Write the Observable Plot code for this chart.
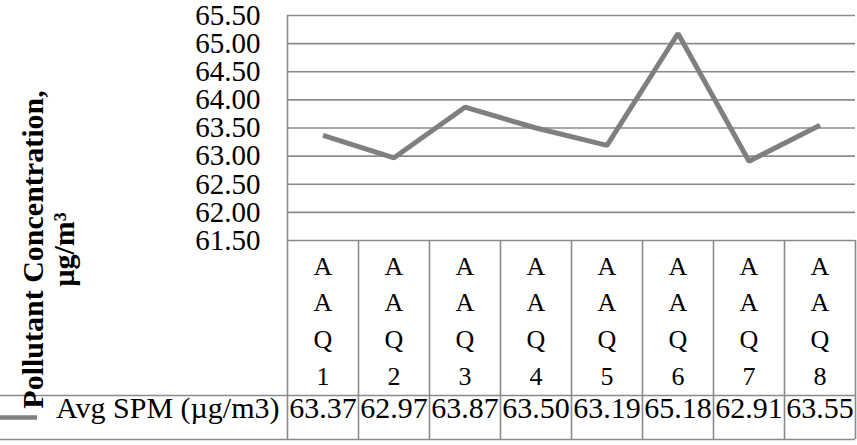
<!DOCTYPE html>
<html>
<head>
<meta charset="utf-8">
<script src="https://cdn.jsdelivr.net/npm/d3@7"></script>
<script src="https://cdn.jsdelivr.net/npm/@observablehq/plot@0.6"></script>
<style>
  html, body { margin: 0; padding: 0; background: #ffffff; }
  #chart { width: 857px; height: 445px; overflow: hidden; }
</style>
</head>
<body>
<div id="chart"></div>
<script>
// ---- data ----
const categories = ["AAQ1", "AAQ2", "AAQ3", "AAQ4", "AAQ5", "AAQ6", "AAQ7", "AAQ8"];
const avgSPM = [63.37, 62.97, 63.87, 63.50, 63.19, 65.18, 62.91, 63.55];
const yTicks = [61.5, 62.0, 62.5, 63.0, 63.5, 64.0, 64.5, 65.0, 65.5];
const seriesName = "Avg SPM (µg/m3)";
const yLabel = "Pollutant Concentration,\nµg/m³";

// ---- layout / style ----
const W = 857, H = 445;
const mTop = 15, mLeft = 287, mRight = 2, mBottom = 205;
const plotBottom = H - mBottom;          // 240
const headerRowH = 155;                  // 240 -> 395
const tableBottomOff = 199;              // 240 -> 439
const gridColor = "#8a8a8a";
const lineColor = "#7f7f7f";
const font = "'Liberation Serif', 'Times New Roman', Times, serif";

const data = categories.map((c, i) => ({cat: c, pos: i + 1, value: avgSPM[i]}));
const boundaries = d3.range(categories.length + 1).map(i => i + 0.5);

const chart = Plot.plot({
  width: W,
  height: H,
  marginTop: mTop,
  marginLeft: mLeft,
  marginRight: mRight,
  marginBottom: mBottom,
  style: {fontFamily: font, fontSize: "29px", color: "#000", background: "#fff"},
  x: {domain: [0.5, categories.length + 0.5], axis: null},
  y: {
    domain: [yTicks[0], yTicks[yTicks.length - 1]],
    ticks: yTicks,
    tickFormat: d => d.toFixed(2),
    tickSize: 0,
    tickPadding: 27,
    label: null
  },
  marks: [
    // horizontal gridlines
    Plot.ruleY(yTicks, {stroke: gridColor, strokeWidth: 1.6}),
    // vertical axis line in the plot area
    Plot.ruleX([boundaries[0]], {stroke: gridColor, strokeWidth: 1.6}),
    // data table: column borders
    Plot.ruleX(boundaries, {stroke: gridColor, strokeWidth: 1.6,
      insetTop: plotBottom - mTop, insetBottom: -tableBottomOff}),
    // data table: horizontal borders of the value row
    Plot.ruleY([yTicks[0]], {stroke: gridColor, strokeWidth: 1.6, dy: headerRowH, insetLeft: -mLeft}),
    Plot.ruleY([yTicks[0]], {stroke: gridColor, strokeWidth: 1.6, dy: tableBottomOff, insetLeft: -mLeft}),
    // series line
    Plot.line(data, {x: "pos", y: "value", stroke: lineColor, strokeWidth: 5,
      strokeLinecap: "butt", strokeLinejoin: "miter"}),
    // table header: stacked category letters
    Plot.text(data, {x: "pos", text: d => d.cat.split("").join("\n"), frameAnchor: "bottom",
      lineAnchor: "top", lineHeight: 1.41, dy: 8, fontSize: 26, fill: "#000"}),
    // table values
    Plot.text(data, {x: "pos", text: d => d.value.toFixed(2), frameAnchor: "bottom",
      dy: 177.5, fontSize: 30, fill: "#000"}),
    // series name in table
    Plot.text([seriesName], {frameAnchor: "bottom-left", textAnchor: "end", dx: -8, dy: 177.5,
      fontSize: 30, fill: "#000"}),
    // legend key
    Plot.ruleY([yTicks[0]], {stroke: lineColor, strokeWidth: 4.5, dy: 177,
      insetLeft: -mLeft, insetRight: W - mRight - 37}),
    // y axis title
    Plot.text([yLabel], {frameAnchor: "top-left", dx: 48 - mLeft, dy: 249 - mTop, rotate: -90,
      textAnchor: "middle", lineAnchor: "middle", lineHeight: 1.03,
      fontSize: 30, fontWeight: "bold", fill: "#000"})
  ]
});

document.getElementById("chart").appendChild(chart);
</script>
</body>
</html>
